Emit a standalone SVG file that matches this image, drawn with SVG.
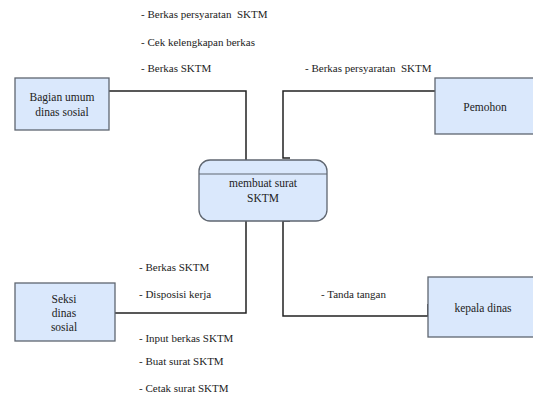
<svg xmlns="http://www.w3.org/2000/svg" width="533" height="395" viewBox="0 0 533 395">
<style>
.box{fill:#dae8fc;stroke:#5f6670;stroke-width:1.3}
.t{font-family:'Times New Roman','Liberation Serif','DejaVu Serif',serif;font-size:11.5px;fill:#222}
.c{text-anchor:middle}
.l{font-family:'Times New Roman','Liberation Serif','DejaVu Serif',serif;font-size:11px;fill:#222;white-space:pre}
.ln{fill:none;stroke:#222;stroke-width:1.5}
</style>
<rect width="533" height="395" fill="#fff"/>
<g id="connectors">
<polyline class="ln" points="109,91 246,91 246,160"/>
<polyline class="ln" points="435,91 283,91 283,158 290,158"/>
<polyline class="ln" points="115,313 246,313 246,221"/>
<polyline class="ln" points="290,221 283,221 283,316 428,316 428,304"/>
</g>
<g id="labels">
<text class="l" x="141" y="17.5" xml:space="preserve">- Berkas persyaratan  SKTM</text>
<text class="l" x="141" y="45.5">- Cek kelengkapan berkas</text>
<text class="l" x="141" y="72">- Berkas SKTM</text>
<text class="l" x="305" y="72" xml:space="preserve">- Berkas persyaratan  SKTM</text>
<text class="l" x="139" y="271">- Berkas SKTM</text>
<text class="l" x="139" y="298">- Disposisi kerja</text>
<text class="l" x="139" y="342">- Input berkas SKTM</text>
<text class="l" x="139" y="365">- Buat surat SKTM</text>
<text class="l" x="139" y="392">- Cetak surat SKTM</text>
<text class="l" x="321" y="298">- Tanda tangan</text>
</g>
<g id="bagian-umum">
<rect class="box" x="15" y="78" width="94" height="52"/>
<text class="t c" x="62" y="101">Bagian umum</text>
<text class="t c" x="62" y="116">dinas sosial</text>
</g>
<g id="pemohon">
<rect class="box" x="435" y="78" width="105" height="56"/>
<text class="t c" x="485" y="111">Pemohon</text>
</g>
<g id="proses">
<rect class="box" x="199" y="160" width="128" height="61" rx="11" ry="11"/>
<line x1="199" y1="174" x2="327" y2="174" stroke="#5f6670" stroke-width="1.2"/>
<text class="t c" x="263" y="187">membuat surat</text>
<text class="t c" x="263" y="202">SKTM</text>
</g>
<g id="seksi">
<rect class="box" x="15" y="283" width="100" height="58"/>
<text class="t c" x="64" y="303">Seksi</text>
<text class="t c" x="64" y="317">dinas</text>
<text class="t c" x="64" y="331">sosial</text>
</g>
<g id="kepala-dinas">
<rect class="box" x="428" y="277" width="112" height="60"/>
<text class="t c" x="483" y="312">kepala dinas</text>
</g>
</svg>
